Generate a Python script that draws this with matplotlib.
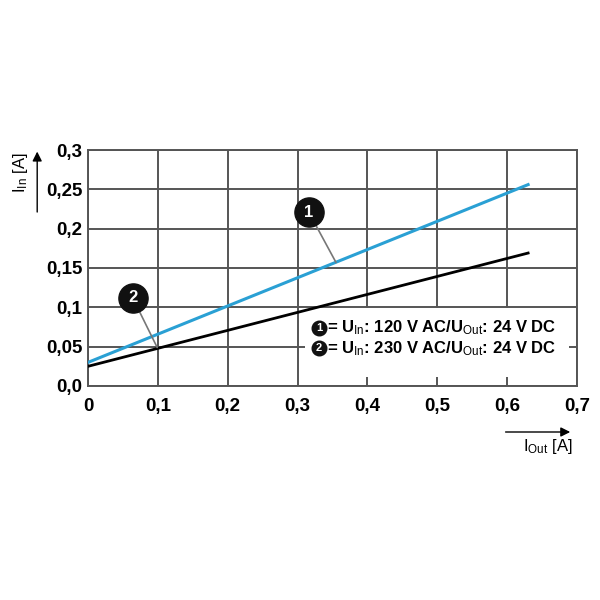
import matplotlib
matplotlib.use("Agg")
import matplotlib.pyplot as plt

plt.rcParams['font.family'] = ['Liberation Sans', 'DejaVu Sans']
plt.rcParams['mathtext.fontset'] = 'custom'
plt.rcParams['mathtext.rm'] = 'Liberation Sans'
plt.rcParams['mathtext.it'] = 'Liberation Sans'
plt.rcParams['mathtext.bf'] = 'Liberation Sans:bold'

# data
i_out = [0.0, 0.63]
i_in_120 = [0.030, 0.256]
i_in_230 = [0.025, 0.169]

x_ticks = [0, 0.1, 0.2, 0.3, 0.4, 0.5, 0.6, 0.7]
x_labels = ['0', '0,1', '0,2', '0,3', '0,4', '0,5', '0,6', '0,7']
y_ticks = [0, 0.05, 0.1, 0.15, 0.2, 0.25, 0.3]
y_labels = ['0,0', '0,05', '0,1', '0,15', '0,2', '0,25', '0,3']
legend_lines = ['120 V AC', '230 V AC']

grid_col = '#555555'

fig = plt.figure(figsize=(6, 6), dpi=100)
ax = fig.add_axes([0.1467, 0.3567, 0.815, 0.3933])

ax.plot(i_out, i_in_120, color='#2aa0d4', lw=2.2, zorder=3)
ax.plot(i_out, i_in_230, color='black', lw=2.0, zorder=3)

ax.set_xlim(0, 0.7)
ax.set_ylim(0, 0.3)
ax.set_xticks(x_ticks)
ax.set_xticklabels(x_labels, fontsize=13.5, fontweight='bold')
ax.set_yticks(y_ticks)
ax.set_yticklabels(y_labels, fontsize=13.5, fontweight='bold')
ax.tick_params(axis='x', length=0, pad=9)
ax.tick_params(axis='y', length=0, pad=4)
ax.grid(True, color=grid_col, lw=1.4)
ax.set_axisbelow(True)
for s in ax.spines.values():
    s.set_color(grid_col)
    s.set_linewidth(1.4)

# numbered markers with leader lines
def marker(num, xy, xytext):
    ax.annotate('', xy=xy, xytext=xytext,
                arrowprops=dict(arrowstyle='-', color='#777777', lw=1.2,
                                shrinkA=0, shrinkB=0), zorder=4)
    ax.plot(*xytext, 'o', ms=21, color='#111111', zorder=5)
    ax.text(*xytext, str(num), color='white', fontsize=12, fontweight='bold',
            ha='center', va='center', zorder=6)

marker(1, (0.355, 0.157), (0.316, 0.221))
marker(2, (0.099, 0.049), (0.064, 0.112))

# legend block
box = plt.Rectangle((0.31, 0.012), 0.378, 0.087, facecolor='white',
                    edgecolor='none', zorder=2)
ax.add_patch(box)
for k, (yy, txt) in enumerate(zip([0.074, 0.048], legend_lines)):
    ax.plot(0.3305, yy, 'o', ms=10.5, color='#111111', zorder=5)
    ax.text(0.3305, yy, str(k + 1), color='white', fontsize=8, fontweight='bold',
            ha='center', va='center', zorder=6)
    ax.text(0.342, yy, '= U$_{\\mathrm{In}}$: ' + txt + '/U$_{\\mathrm{Out}}$: 24 V DC',
            fontsize=12, fontweight='bold', va='center', zorder=4)

# axis labels with arrows
fig.patches.append(matplotlib.patches.FancyArrowPatch(
    (0.062, 0.642), (0.062, 0.752), transform=fig.transFigure,
    arrowstyle='-|>', mutation_scale=14, color='black', lw=1))
fig.text(0.035, 0.712, 'I$_{\\mathrm{In}}$ [A]', rotation=90, fontsize=12,
         ha='center', va='center')
fig.patches.append(matplotlib.patches.FancyArrowPatch(
    (0.838, 0.28), (0.955, 0.28), transform=fig.transFigure,
    arrowstyle='-|>', mutation_scale=14, color='black', lw=1))
fig.text(0.955, 0.255, 'I$_{\\mathrm{Out}}$ [A]', fontsize=12,
         ha='right', va='center')

fig.savefig('out.png', dpi=100)
